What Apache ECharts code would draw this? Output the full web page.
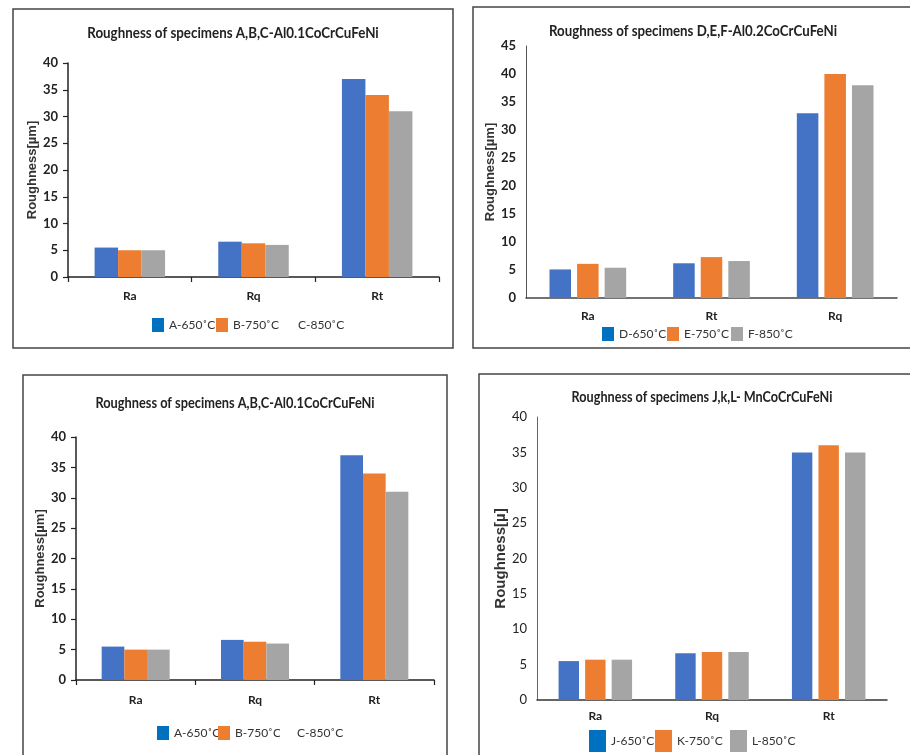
<!DOCTYPE html>
<html>
<head>
<meta charset="utf-8">
<script src="https://cdn.jsdelivr.net/npm/echarts@6/dist/echarts.min.js"></script>
<style>html,body{margin:0;padding:0;background:#fff;}#c{width:910px;height:755px;}</style>
</head>
<body>
<div id="c"></div>
<script>
// ---- data ----
const titles = [
  'Roughness of specimens A,B,C-Al0.1CoCrCuFeNi',
  'Roughness of specimens D,E,F-Al0.2CoCrCuFeNi',
  'Roughness of specimens A,B,C-Al0.1CoCrCuFeNi',
  'Roughness of specimens J,k,L- MnCoCrCuFeNi'
];
const yNames = ['Roughness[µm]', 'Roughness[µm]', 'Roughness[µm]', 'Roughness[µ]'];
const cats1 = ['Ra', 'Rq', 'Rt'];
const cats2 = ['Ra', 'Rt', 'Rq'];
const cats3 = ['Ra', 'Rq', 'Rt'];
const cats4 = ['Ra', 'Rq', 'Rt'];
const names1 = ['A-650˚C', 'B-750˚C', 'C-850˚C'];
const names2 = ['D-650˚C', 'E-750˚C', 'F-850˚C'];
const names3 = ['A-650˚C', 'B-750˚C', 'C-850˚C'];
const names4 = ['J-650˚C', 'K-750˚C', 'L-850˚C'];
const p1A = [5.5, 6.6, 37];
const p1B = [5.0, 6.3, 34];
const p1C = [5.0, 6.0, 31];
const p2D = [5.1, 6.2, 33];
const p2E = [6.1, 7.3, 40];
const p2F = [5.4, 6.6, 38];
const p3A = [5.5, 6.6, 37];
const p3B = [5.0, 6.3, 34];
const p3C = [5.0, 6.0, 31];
const p4J = [5.5, 6.6, 35];
const p4K = [5.7, 6.8, 36];
const p4L = [5.7, 6.8, 35];
const yMax = [40, 45, 40, 40];
const yStep = 5;

// ---- layout / style ----
const FONT = 'Lato';
const colors = ['#4472C4', '#ED7D31', '#A5A5A5'];
const legendColors = ['#0070C0', '#ED7D31', '#A5A5A5'];
const panels = [
  {grid:{left:68, top:63, width:371, height:214}, cats:cats1, names:names1, data:[p1A,p1B,p1C],
   title:{x:233, y:33, sx:0.835}, frame:[13,9,440,339], ticks:true, yLineColor:'#222', xLineColor:'#222',
   catGap:'43%', barGap:'0%', tickBold:'bold', yNameSize:13, yNameGap:27, catMargin:13,
   legend:{top:318, icons:[152,216,281], iw:12, ih:14, tg:4, fs:12, hide:[false,false,true]}},
  {grid:{left:526, top:46, width:371, height:252}, cats:cats2, names:names2, data:[p2D,p2E,p2F],
   title:{x:693, y:31, sx:0.83}, frame:[473,7,445,341], ticks:false, yLineColor:'#555', xLineColor:'#444',
   catGap:'38%', barGap:'28%', tickBold:'bold', yNameSize:13, yNameGap:25, catMargin:12,
   legend:{top:327, icons:[602,667,731], iw:12, ih:14, tg:4, fs:12, hide:[false,false,false]}},
  {grid:{left:76, top:437, width:358, height:243}, cats:cats3, names:names3, data:[p3A,p3B,p3C],
   title:{x:235, y:403, sx:0.80}, frame:[23,375,424,390], ticks:true, yLineColor:'#222', xLineColor:'#222',
   catGap:'43%', barGap:'0%', tickBold:'bold', yNameSize:13, yNameGap:26, catMargin:14,
   legend:{top:726, icons:[157,218,280], iw:12, ih:14, tg:4, fs:12, hide:[false,false,true]}},
  {grid:{left:537, top:417, width:350, height:283}, cats:cats4, names:names4, data:[p4J,p4K,p4L],
   title:{x:702, y:397, sx:0.79}, frame:[479,374,440,390], ticks:false, yLineColor:'#666', xLineColor:'#333',
   catGap:'37%', barGap:'30%', tickBold:'normal', yNameSize:15, yNameGap:24, catMargin:10,
   legend:{top:730, icons:[589,655,730], iw:17, ih:22, tg:2, fs:12, hide:[false,false,false]}}
];

const option = {
  animation: false,
  backgroundColor: '#fff',
  grid: [], xAxis: [], yAxis: [], series: [], legend: [], graphic: []
};

panels.forEach((p, i) => {
  option.grid.push(Object.assign({containLabel:false}, p.grid));
  option.xAxis.push({
    type:'category', gridIndex:i, data:p.cats,
    axisLine:{show:true, lineStyle:{color:p.xLineColor, width:1.5}},
    axisTick:{show:p.ticks, alignWithLabel:false, length:5, lineStyle:{color:'#222', width:1.2}},
    axisLabel:{margin:p.catMargin, color:'#222', fontWeight:'bold', fontSize:12, fontFamily:FONT},
    splitLine:{show:false}
  });
  option.yAxis.push({
    type:'value', gridIndex:i, min:0, max:yMax[i], interval:yStep,
    name:yNames[i], nameLocation:'middle', nameGap:p.yNameGap, nameRotate:90,
    nameTextStyle:{fontSize:p.yNameSize, fontWeight:'bold', color:'#333', fontFamily:'Liberation Sans'},
    axisLine:{show:true, lineStyle:{color:p.yLineColor, width:p.ticks?1.5:1}},
    axisTick:{show:p.ticks, length:5, lineStyle:{color:'#222', width:1.2}},
    axisLabel:{margin:10, color:'#222', fontWeight:p.tickBold, fontSize:13, fontFamily:FONT},
    splitLine:{show:false}
  });
  p.names.forEach((n, k) => {
    option.series.push({
      type:'bar', name:n, xAxisIndex:i, yAxisIndex:i, data:p.data[k],
      itemStyle:{color:colors[k]},
      barGap:p.barGap, barCategoryGap:p.catGap
    });
    option.legend.push({
      left:p.legend.icons[k], top:p.legend.top, orient:'horizontal', padding:0,
      itemWidth:p.legend.iw, itemHeight:p.legend.ih, itemGap:0, itemTextGap:p.legend.tg,
      selectedMode:false,
      data:[{name:n, icon:'rect', itemStyle:{color:p.legend.hide[k] ? '#ffffff' : legendColors[k]}}],
      textStyle:{fontSize:p.legend.fs, color:'#333', fontFamily:FONT}
    });
  });
  option.graphic.push({
    type:'rect', silent:true,
    shape:{x:p.frame[0], y:p.frame[1], width:p.frame[2], height:p.frame[3]},
    style:{fill:'none', stroke:'#444', lineWidth:1.5}
  });
  option.graphic.push({
    type:'text', silent:true, x:p.title.x, y:p.title.y, scaleX:p.title.sx,
    style:{text:titles[i], textAlign:'center', textVerticalAlign:'middle',
      font:'bold 16px ' + FONT, fill:'#222'}
  });
});

const chart = echarts.init(document.getElementById('c'), null, {renderer:'canvas'});
chart.setOption(option);
</script>
</body>
</html>
